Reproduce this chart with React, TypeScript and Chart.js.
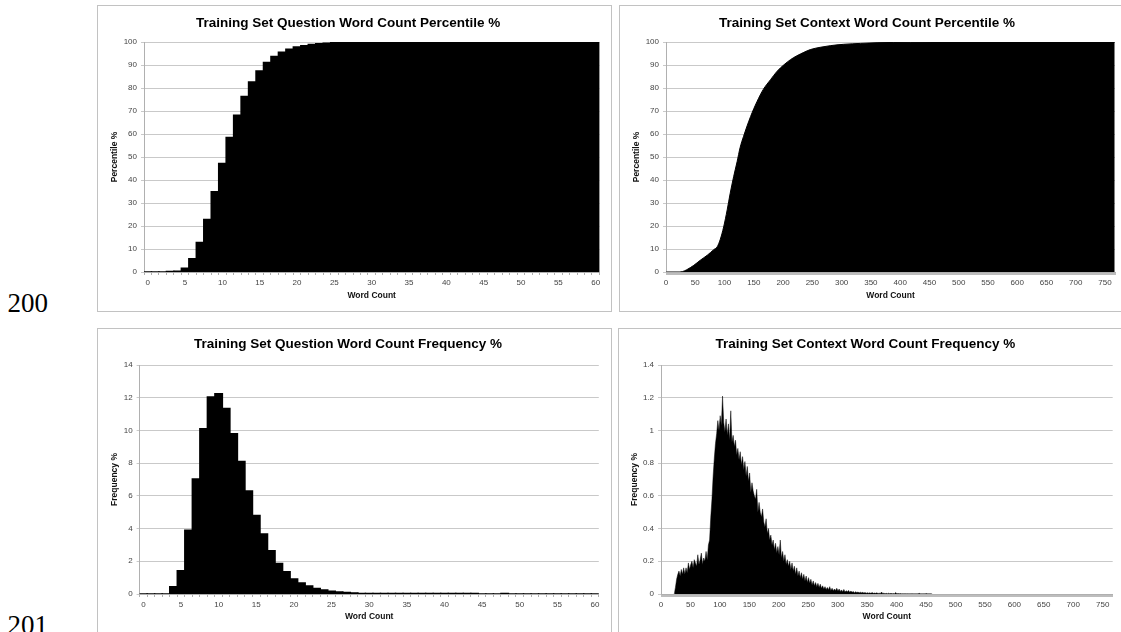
import React, { useEffect, useRef } from 'react';
import { Chart, registerables } from 'chart.js';

Chart.register(...registerables);

const FONT = '"Liberation Sans", Arial, Helvetica, sans-serif';

// ---------- Question word counts (0..60) ----------
const questionWordCounts = [
  '0', '1', '2', '3', '4', '5', '6', '7', '8', '9', '10', '11', '12', '13', '14', '15', '16', '17', '18', '19', '20',
  '21', '22', '23', '24', '25', '26', '27', '28', '29', '30', '31', '32', '33', '34', '35', '36', '37', '38', '39', '40',
  '41', '42', '43', '44', '45', '46', '47', '48', '49', '50', '51', '52', '53', '54', '55', '56', '57', '58', '59', '60',
];

const questionPercentile = [
  0, 0, 0, 0.05, 0.4, 1.7, 5.8, 12.8, 22.8, 34.9,
  47.2, 58.5, 68.2, 76.3, 82.6, 87.4, 91.1, 93.7, 95.6, 96.9,
  97.8, 98.4, 98.9, 99.3, 99.5, 99.65, 99.75, 99.82, 99.87, 99.9,
  99.93, 99.95, 99.96, 99.97, 99.98, 99.98, 99.99, 99.99, 99.99, 99.99,
  100, 100, 100, 100, 100, 100, 100, 100, 100, 100,
  100, 100, 100, 100, 100, 100, 100, 100, 100, 100,
  100,
];

const questionFrequency = [
  0, 0, 0, 0, 0.45, 1.43, 3.9, 7.03, 10.1, 12.05,
  12.25, 11.35, 9.8, 8.1, 6.3, 4.8, 3.67, 2.65, 1.87, 1.37,
  0.92, 0.68, 0.49, 0.34, 0.24, 0.17, 0.12, 0.09, 0.06, 0.04,
  0.03, 0.02, 0.015, 0.01, 0.008, 0.006, 0.005, 0.004, 0.003, 0.002,
  0.002, 0.001, 0.001, 0.001, 0.001, 0, 0, 0, 0.001, 0,
  0, 0, 0, 0, 0, 0, 0, 0, 0, 0,
  0,
];

// ---------- Context word counts (0..766) ----------
const contextMaxWord = 766;

const contextPercentileWords = [
  0, 22, 28, 35, 47, 58, 70, 81, 87, 92, 98, 104, 109, 115, 121, 126, 132, 144, 155, 166,
  178, 189, 201, 212, 223, 235, 246, 263, 280, 303, 332, 360, 417, 500, 600, 766,
];
const contextPercentileValues = [
  0, 0, 0.2, 1, 2.9, 5.1, 7.3, 9.7, 11, 14, 19.6, 27, 34, 41.4, 48, 54, 59, 67.6, 74.1, 79.5,
  83.6, 87.2, 90.1, 92.3, 94, 95.5, 96.7, 97.7, 98.4, 99, 99.4, 99.7, 99.85, 99.95, 99.99, 100,
];

const contextFrequencyFirstWord = 22;
const contextFrequencyWordStep = 2;
const contextFrequencyValues = [
  0, 0.04, 0.09, 0.12, 0.14, 0.11, 0.15, 0.12, 0.16, 0.12,
  0.16, 0.13, 0.19, 0.15, 0.18, 0.2, 0.16, 0.21, 0.19, 0.17,
  0.24, 0.18, 0.21, 0.25, 0.18, 0.22, 0.2, 0.26, 0.21, 0.3,
  0.33, 0.47, 0.58, 0.72, 0.83, 0.92, 0.98, 1.06, 1.0, 1.09,
  1.03, 1.21, 1.05, 0.99, 1.07, 0.97, 1.04, 0.94, 1.12, 0.93,
  0.97, 0.9, 0.94, 0.85, 0.89, 0.82, 0.87, 0.79, 0.84, 0.76,
  0.81, 0.72, 0.78, 0.69, 0.74, 0.62, 0.68, 0.63, 0.6, 0.58,
  0.64, 0.5, 0.56, 0.5, 0.47, 0.52, 0.44, 0.41, 0.46, 0.37,
  0.4, 0.33, 0.36, 0.3, 0.33, 0.27, 0.31, 0.25, 0.29, 0.24,
  0.33, 0.22, 0.26, 0.2, 0.24, 0.18, 0.21, 0.17, 0.2, 0.15,
  0.19, 0.14, 0.17, 0.12, 0.16, 0.11, 0.14, 0.1, 0.13, 0.09,
  0.12, 0.08, 0.11, 0.07, 0.1, 0.065, 0.09, 0.055, 0.08, 0.05,
  0.07, 0.045, 0.065, 0.04, 0.06, 0.035, 0.05, 0.03, 0.045, 0.028,
  0.04, 0.026, 0.045, 0.022, 0.035, 0.02, 0.03, 0.022, 0.035, 0.018,
  0.03, 0.016, 0.025, 0.014, 0.028, 0.012, 0.02, 0.013, 0.022, 0.01,
  0.018, 0.011, 0.015, 0.008, 0.014, 0.009, 0.012, 0.007, 0.011, 0.007,
  0.01, 0.006, 0.009, 0.005, 0.008, 0.005, 0.007, 0.004, 0.009, 0.004,
  0.006, 0.004, 0.007, 0.003, 0.005, 0.003, 0.012, 0.003, 0.005, 0.002,
  0.004, 0.002, 0.005, 0.002, 0.004, 0.002, 0.003, 0.002, 0.009, 0.002,
  0.003, 0.002, 0.003, 0.001, 0.002, 0.001, 0.002, 0.001, 0.002, 0.001,
  0.001, 0.001, 0.002, 0.001, 0.001, 0.001, 0.001, 0.001, 0.004, 0.001,
  0.001, 0.001, 0.001, 0.001, 0.003, 0.001, 0.001, 0.001, 0.001, 0,
];

// ---------- Axis settings ----------
const percentileAxisMax = 100;
const percentileAxisStep = 10;
const questionFrequencyAxisMax = 14;
const questionFrequencyAxisStep = 2;
const contextFrequencyAxisMax = 1.4;
const contextFrequencyAxisStep = 0.2;
const questionLabelEvery = 5;
const contextLabelEvery = 50;

// ---------- Styling ----------
const GRID = '#c9c9c9';
const AXIS = '#b0b0b0';
const TICK_TEXT = '#444';
const tickFont = { family: FONT, size: 8 };
const axisTitleFont = { family: FONT, size: 8.5, weight: 'bold' as const };

type Geom = {
  left: number; top: number; width: number; height: number;
  titleTop: number; titleBottom: number;
  yWidth: number; xHeight: number; padRight: number;
  yTitleCenter: number; xTitleCenterFromBottom: number;
};

function yScale(g: Geom, max: number, step: number, text: string) {
  return {
    min: 0,
    max,
    ticks: {
      stepSize: step, font: tickFont, color: TICK_TEXT, padding: 4,
      callback: (v: any) => String(Number(Number(v).toFixed(2))),
    },
    grid: { color: GRID, tickLength: 3, drawTicks: true },
    border: { color: AXIS },
    title: {
      display: true, text, color: '#111', font: axisTitleFont,
      padding: { top: g.yTitleCenter - 5.1, bottom: 0 },
    },
    afterFit: (s: any) => { s.width = g.yWidth; },
  };
}

function xTitle(g: Geom) {
  return {
    display: true, text: 'Word Count', color: '#111', font: axisTitleFont,
    padding: { top: 0, bottom: g.xTitleCenterFromBottom - 5.1 },
  };
}

function categoryX(g: Geom) {
  return {
    type: 'category' as const,
    offset: true,
    grid: { display: true, drawOnChartArea: false, drawTicks: true, tickLength: 3, color: AXIS, offset: true },
    border: { color: AXIS },
    ticks: {
      autoSkip: false, maxRotation: 0, minRotation: 0, font: tickFont, color: TICK_TEXT, padding: 3,
      callback: (_v: any, i: number) => (i % questionLabelEvery === 0 ? questionWordCounts[i] : ''),
    },
    title: xTitle(g),
    afterFit: (s: any) => { s.height = g.xHeight; },
  };
}

function linearX(g: Geom) {
  return {
    type: 'linear' as const,
    min: -0.5,
    max: contextMaxWord + 0.5,
    grid: { display: true, drawOnChartArea: false, drawTicks: true, tickLength: 3, color: '#bdbdbd' },
    border: { color: AXIS },
    ticks: {
      stepSize: 1, autoSkip: false, maxRotation: 0, minRotation: 0, font: tickFont, color: TICK_TEXT, padding: 3,
      callback: (v: any) => {
        const w = Math.round(Number(v) + 0.5);
        return w % contextLabelEvery === 0 ? String(w) : '';
      },
    },
    title: xTitle(g),
    afterFit: (s: any) => { s.height = g.xHeight; },
  };
}

function baseOptions(g: Geom, title: string, x: any, y: any) {
  return {
    responsive: false,
    animation: false as const,
    devicePixelRatio: 1,
    events: [] as any[],
    layout: { padding: { left: 0, right: g.padRight, top: 0, bottom: 0 } },
    plugins: {
      legend: { display: false },
      tooltip: { enabled: false },
      title: {
        display: true, text: title, color: '#000',
        font: { family: FONT, size: 13.5, weight: 'bold' as const, lineHeight: 1.2 },
        padding: { top: g.titleTop, bottom: g.titleBottom },
      },
    },
    scales: { x, y },
  };
}

const geomQP: Geom = { left: 97, top: 5, width: 515, height: 307, titleTop: 9.7, titleBottom: 11.1, yWidth: 47, xHeight: 40, padRight: 12.6, yTitleCenter: 18, xTitleCenterFromBottom: 16 };
const geomCP: Geom = { left: 619, top: 5, width: 515, height: 307, titleTop: 9.7, titleBottom: 11.1, yWidth: 47, xHeight: 40, padRight: 19, yTitleCenter: 18, xTitleCenterFromBottom: 16 };
const geomQF: Geom = { left: 97, top: 328, width: 515, height: 307, titleTop: 8.2, titleBottom: 12.6, yWidth: 42.6, xHeight: 41, padRight: 13.2, yTitleCenter: 18, xTitleCenterFromBottom: 18 };
const geomCF: Geom = { left: 618, top: 328, width: 515, height: 307, titleTop: 8.2, titleBottom: 12.6, yWidth: 43, xHeight: 41, padRight: 20.3, yTitleCenter: 17, xTitleCenterFromBottom: 18 };

const barStyle = { backgroundColor: '#000', borderWidth: 0, barPercentage: 1, categoryPercentage: 1, inflateAmount: 0.7 };

function questionPercentileConfig(): any {
  const g = geomQP;
  return {
    type: 'bar',
    data: { labels: questionWordCounts, datasets: [{ data: questionPercentile, ...barStyle }] },
    options: baseOptions(g, 'Training Set Question Word Count Percentile %', categoryX(g), yScale(g, percentileAxisMax, percentileAxisStep, 'Percentile %')),
  };
}

function questionFrequencyConfig(): any {
  const g = geomQF;
  return {
    type: 'bar',
    data: { labels: questionWordCounts, datasets: [{ data: questionFrequency, ...barStyle }] },
    options: baseOptions(g, 'Training Set Question Word Count Frequency %', categoryX(g), yScale(g, questionFrequencyAxisMax, questionFrequencyAxisStep, 'Frequency %')),
  };
}

function contextPercentileConfig(): any {
  const g = geomCP;
  return {
    type: 'line',
    data: {
      datasets: [{
        data: contextPercentileWords.map((w, i) => ({ x: w, y: contextPercentileValues[i] })),
        fill: 'origin', backgroundColor: '#000', borderColor: '#000', borderWidth: 1,
        pointRadius: 0, cubicInterpolationMode: 'monotone',
      }],
    },
    options: baseOptions(g, 'Training Set Context Word Count Percentile %', linearX(g), yScale(g, percentileAxisMax, percentileAxisStep, 'Percentile %')),
  };
}

function contextFrequencyConfig(): any {
  const g = geomCF;
  return {
    type: 'line',
    data: {
      datasets: [{
        data: contextFrequencyValues.map((v, i) => ({ x: contextFrequencyFirstWord + i * contextFrequencyWordStep, y: v })),
        fill: 'origin', backgroundColor: '#000', borderColor: 'rgba(0,0,0,0.6)', borderWidth: 0.8,
        pointRadius: 0, tension: 0,
      }],
    },
    options: baseOptions(g, 'Training Set Context Word Count Frequency %', linearX(g), yScale(g, contextFrequencyAxisMax, contextFrequencyAxisStep, 'Frequency %')),
  };
}

function Panel({ g, make }: { g: Geom; make: () => any }) {
  const ref = useRef<HTMLCanvasElement | null>(null);
  useEffect(() => {
    if (!ref.current) return;
    const chart = new Chart(ref.current, make());
    return () => chart.destroy();
  }, []);
  return (
    <>
      <div style={{ position: 'absolute', left: g.left, top: g.top, width: g.width, height: g.height, border: '1px solid #c2c2c2', boxSizing: 'border-box', background: '#fff' }} />
      <canvas ref={ref} width={g.width} height={g.height} style={{ position: 'absolute', left: g.left, top: g.top, width: g.width, height: g.height }} />
    </>
  );
}

const sideLabelStyle: React.CSSProperties = {
  position: 'absolute', left: 7.5, fontFamily: '"Liberation Serif", "Times New Roman", serif',
  fontSize: 27, lineHeight: '27px', color: '#000', whiteSpace: 'nowrap',
};

export default function App() {
  return (
    <div style={{ position: 'absolute', left: 0, top: 0, width: 1121, height: 632, overflow: 'hidden', background: '#fff' }}>
      <div style={{ ...sideLabelStyle, top: 290 }}>200</div>
      <div style={{ ...sideLabelStyle, top: 612 }}>201</div>
      <Panel g={geomQP} make={questionPercentileConfig} />
      <Panel g={geomCP} make={contextPercentileConfig} />
      <Panel g={geomQF} make={questionFrequencyConfig} />
      <Panel g={geomCF} make={contextFrequencyConfig} />
    </div>
  );
}
